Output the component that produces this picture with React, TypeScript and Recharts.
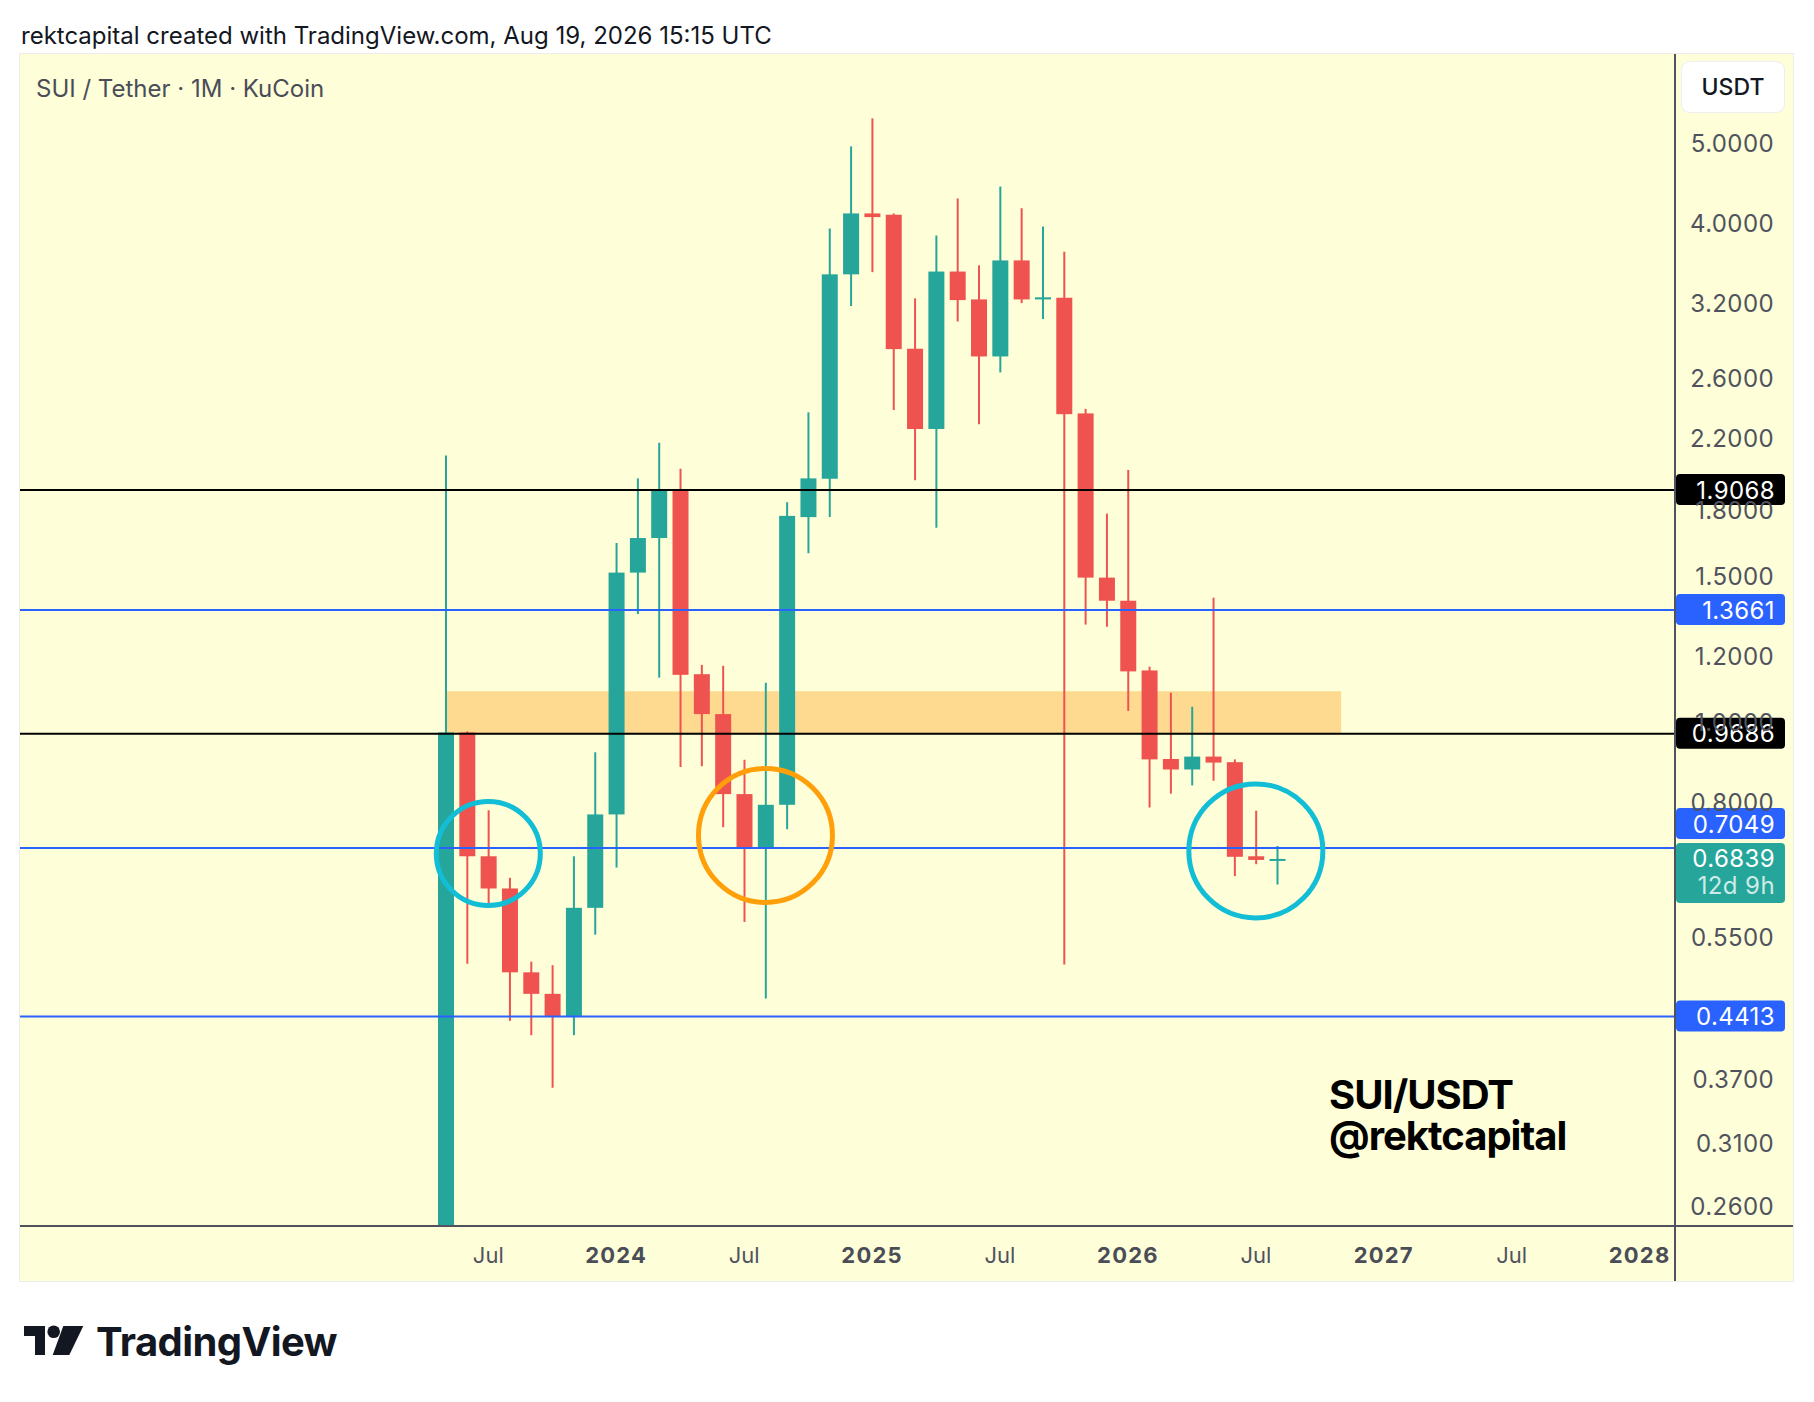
import React from 'react';
import {
  ComposedChart,
  XAxis,
  YAxis,
  Bar,
  ReferenceLine,
  ReferenceArea,
  ReferenceDot,
} from 'recharts';

// month index: Jan 2023 = 0
const MONTHS = [
  4, 5, 6, 7, 8, 9, 10, 11, 12, 13, 14, 15, 16, 17, 18, 19, 20, 21, 22, 23,
  24, 25, 26, 27, 28, 29, 30, 31, 32, 33, 34, 35, 36, 37, 38, 39, 40, 41, 42, 43,
];
const OPENS = [
  0.1, 0.972, 0.689, 0.63, 0.499, 0.47, 0.442, 0.597, 0.774, 1.516, 1.669, 1.91, 1.143, 1.023, 0.819, 0.707, 0.795, 1.769, 1.968, 3.474,
  4.115, 4.1, 2.825, 2.26, 3.501, 3.24, 2.765, 3.611, 3.24, 3.255, 2.36, 1.495, 1.402, 1.155, 0.903, 0.877, 0.909, 0.895, 0.689, 0.682,
];
const HIGHS = [
  2.1, 0.975, 0.783, 0.649, 0.514, 0.509, 0.689, 0.92, 1.646, 1.97, 2.175, 2.023, 1.173, 1.17, 0.901, 1.116, 1.843, 2.367, 3.947, 4.958,
  5.36, 4.115, 3.25, 3.869, 4.29, 3.562, 4.435, 4.175, 3.968, 3.7, 2.39, 1.786, 2.017, 1.167, 1.086, 1.044, 1.414, 0.902, 0.782, 0.709,
];
const LOWS = [
  0.1, 0.511, 0.599, 0.436, 0.419, 0.362, 0.419, 0.554, 0.668, 1.351, 1.132, 0.883, 0.885, 0.747, 0.574, 0.464, 0.743, 1.6, 1.769, 3.181,
  3.495, 2.382, 1.96, 1.717, 3.047, 2.29, 2.645, 3.207, 3.068, 0.51, 1.312, 1.304, 1.032, 0.789, 0.82, 0.839, 0.85, 0.652, 0.674, 0.637,
];
const CLOSES = [
  0.972, 0.689, 0.63, 0.499, 0.47, 0.442, 0.597, 0.774, 1.516, 1.669, 1.91, 1.141, 1.023, 0.819, 0.707, 0.795, 1.775, 1.97, 3.474, 4.115,
  4.073, 2.822, 2.26, 3.501, 3.234, 2.765, 3.611, 3.24, 3.259, 2.355, 1.495, 1.402, 1.152, 0.902, 0.877, 0.909, 0.894, 0.688, 0.682, 0.6839,
];

const X_TICKS = [6, 12, 18, 24, 30, 36, 42, 48, 54, 60];
const Y_TICKS = [5, 4, 3.2, 2.6, 2.2, 1.8, 1.5, 1.2, 1.0, 0.8, 0.55, 0.37, 0.31, 0.26];

const BLACK_LEVELS = [1.9068, 0.9686];
const BLUE_LEVELS = [1.3661, 0.7049, 0.4413];
const LAST_PRICE = 0.6839;
const TIME_LEFT = '12d 9h';

const ZONE = { from: 4, to: 46, low: 0.9686, high: 1.09 };

const CIRCLES = [
  { m: 6, price: 0.6944, r: 52, color: '#12bdd6' },
  { m: 19, price: 0.73, r: 67, color: '#ff9f0a' },
  { m: 42, price: 0.6994, r: 67, color: '#12bdd6' },
];

const UP = '#26a69a';
const DOWN = '#ef5350';
const BLUE = '#2962ff';
const AXIS_TEXT = '#50535e';
const FONT = 'Inter, "Noto Sans", sans-serif';

const CHART_W = 1773;
const CHART_H = 1227;
const AXIS_W = 118;
const AXIS_H = 55;
const PLOT_W = CHART_W - AXIS_W;
const PLOT_H = CHART_H - AXIS_H;

const data = MONTHS.map((m, i) => ({
  m,
  open: OPENS[i],
  high: HIGHS[i],
  low: LOWS[i],
  close: CLOSES[i],
  range: [LOWS[i], HIGHS[i]],
}));

function Candle(props: any) {
  const { x, y, width, height, payload } = props;
  if (x == null || y == null) return null;
  const { open, close, high, low } = payload;
  const cx = x + width / 2;
  const span = Math.log(high) - Math.log(low);
  const py = (p: number) => y + ((Math.log(high) - Math.log(p)) / span) * height;
  const color = close >= open ? UP : DOWN;
  const top = py(Math.max(open, close));
  const bot = py(Math.min(open, close));
  return (
    <g>
      <line x1={cx} x2={cx} y1={y} y2={y + height} stroke={color} strokeWidth={2} />
      <rect x={cx - 8} y={top} width={16} height={Math.max(bot - top, 2)} fill={color} />
    </g>
  );
}

function XTick(props: any) {
  const { x, payload } = props;
  const m = payload.value;
  const isYear = m % 12 === 0;
  return (
    <text
      x={x}
      y={PLOT_H + 29}
      textAnchor="middle"
      dominantBaseline="central"
      fontFamily={FONT}
      fontSize={22}
      fontWeight={isYear ? 700 : 400}
      letterSpacing={isYear ? 1.2 : 0}
      fill={isYear ? '#4a4d57' : AXIS_TEXT}
    >
      {isYear ? String(2023 + m / 12) : 'Jul'}
    </text>
  );
}

function YTick(props: any) {
  const { y, payload } = props;
  return (
    <text
      x={PLOT_W + 99}
      y={y}
      textAnchor="end"
      dominantBaseline="central"
      fontFamily={FONT}
      fontSize={24}
      letterSpacing={0.4}
      fill={AXIS_TEXT}
    >
      {Number(payload.value).toFixed(4)}
    </text>
  );
}

const priceTag = (text: string, bg: string, shift = 0, sub?: string) => (props: any) => {
  const vb = props.viewBox;
  if (!vb) return null;
  const x0 = vb.x + vb.width + 1;
  const yc = vb.y + shift;
  const h = sub ? 60 : 31;
  return (
    <g>
      <rect x={x0} y={yc - 16} width={109} height={h} rx={4} fill={bg} />
      <text x={x0 + 99} y={yc} textAnchor="end" dominantBaseline="central" fontFamily={FONT} fontSize={24} letterSpacing={0.4} fill="#ffffff">
        {text}
      </text>
      {sub && (
        <text x={x0 + 99} y={yc + 27} textAnchor="end" dominantBaseline="central" fontFamily={FONT} fontSize={24} letterSpacing={0.4} fill="rgba(255,255,255,0.78)">
          {sub}
        </text>
      )}
    </g>
  );
};

export default function App() {
  return (
    <div
      style={{
        position: 'absolute',
        left: 0,
        top: 0,
        width: 1814,
        height: 1402,
        background: '#ffffff',
        fontFamily: FONT,
        overflow: 'hidden',
      }}
    >
      <div style={{ position: 'absolute', left: 21, top: 21, fontSize: 24, lineHeight: '30px', color: '#131722' }}>
        rektcapital created with TradingView.com, Aug 19, 2026 15:15 UTC
      </div>

      <div
        style={{
          position: 'absolute',
          left: 20,
          top: 54,
          width: CHART_W,
          height: CHART_H,
          background: '#fefed8',
          boxShadow: '0 0 0 1px #ececec',
        }}
      >
        <ComposedChart width={CHART_W} height={CHART_H} data={data} margin={{ top: 0, right: 0, bottom: 0, left: 0 }}>
          <XAxis
            dataKey="m"
            type="number"
            domain={[-15.965, 61.66]}
            ticks={X_TICKS}
            interval={0}
            allowDataOverflow
            height={AXIS_H}
            axisLine={false}
            tickLine={false}
            tick={<XTick />}
          />
          <YAxis
            orientation="right"
            scale="log"
            domain={[0.2465, 6.41]}
            ticks={Y_TICKS}
            interval={0}
            allowDataOverflow
            width={AXIS_W}
            axisLine={false}
            tickLine={false}
            tick={<YTick />}
          />
          <ReferenceArea
            x1={ZONE.from}
            x2={ZONE.to}
            y1={ZONE.low}
            y2={ZONE.high}
            fill="#fdda8f"
            fillOpacity={1}
            stroke="none"
          />
          <Bar
            dataKey="range"
            barSize={16}
            isAnimationActive={false}
            shape={(p: any) => <Candle {...p} />}
          />
          {BLACK_LEVELS.map((v) => (
            <ReferenceLine key={v} y={v} stroke="#000000" strokeWidth={2} label={priceTag(v.toFixed(4), '#000000')} />
          ))}
          {BLUE_LEVELS.map((v) => (
            <ReferenceLine
              key={v}
              y={v}
              stroke={BLUE}
              strokeWidth={2}
              label={priceTag(v.toFixed(4), BLUE, v === 0.7049 ? -24 : 0)}
            />
          ))}
          <ReferenceLine
            y={LAST_PRICE}
            stroke={UP}
            strokeOpacity={0}
            label={priceTag(LAST_PRICE.toFixed(4), UP, 0, TIME_LEFT)}
          />
          {CIRCLES.map((c) => (
            <ReferenceDot
              key={c.m}
              x={c.m}
              y={c.price}
              r={c.r}
              fill="none"
              stroke={c.color}
              strokeWidth={5}
            />
          ))}
        </ComposedChart>

        <div style={{ position: 'absolute', left: PLOT_W - 1, top: 0, width: 2, height: CHART_H, background: '#50535e' }} />
        <div style={{ position: 'absolute', left: 0, top: PLOT_H - 1, width: CHART_W, height: 2, background: '#50535e' }} />

        <div style={{ position: 'absolute', left: 16, top: 20, fontSize: 24, lineHeight: '30px', color: '#4a4d57' }}>
          SUI / Tether · 1M · KuCoin
        </div>

        <div
          style={{
            position: 'absolute',
            left: 1662,
            top: 8,
            width: 102,
            height: 50,
            background: '#ffffff',
            borderRadius: 8,
            boxShadow: '0 0 0 1px #eceef2',
            display: 'flex',
            alignItems: 'center',
            justifyContent: 'center',
            fontSize: 23,
            fontWeight: 500,
            color: '#131722',
          }}
        >
          USDT
        </div>

        <div
          style={{
            position: 'absolute',
            left: 1309,
            top: 1020,
            fontSize: 40,
            lineHeight: '41px',
            fontWeight: 700,
            letterSpacing: -1,
            color: '#000000',
          }}
        >
          <div>SUI/USDT</div>
          <div>@rektcapital</div>
        </div>
      </div>

      <svg style={{ position: 'absolute', left: 0, top: 1300 }} width={100} height={80}>
        <path d="M24 26 H45 V55 H35 V36 H24 Z" fill="#131722" />
        <circle cx={53.7} cy={31.7} r={6.3} fill="#131722" />
        <path d="M63.3 26 H83.3 L69.3 55 H52.7 Z" fill="#131722" />
      </svg>
      <div
        style={{
          position: 'absolute',
          left: 96,
          top: 1318,
          fontSize: 40,
          lineHeight: '48px',
          fontWeight: 700,
          letterSpacing: -0.6,
          color: '#131722',
        }}
      >
        TradingView
      </div>
    </div>
  );
}
